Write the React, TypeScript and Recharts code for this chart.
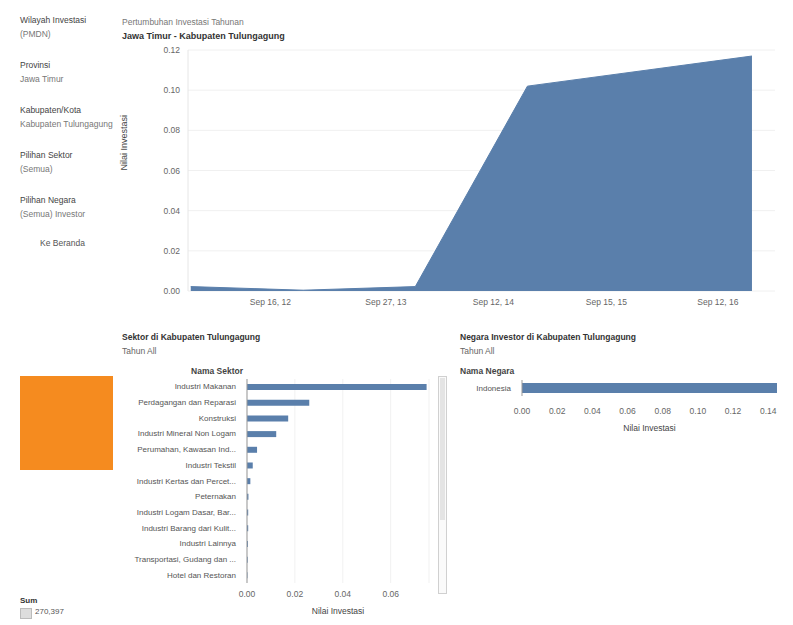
import {
  AreaChart,
  Area,
  BarChart,
  Bar,
  XAxis,
  YAxis,
  CartesianGrid,
} from 'recharts'

// growth over time (Nilai Investasi)
const growthDates = ['2012-01-01', '2013-01-01', '2014-01-01', '2015-01-01', '2017-01-01']
const growthValues = [0.0022, 0.0004, 0.0022, 0.102, 0.117]
const growthTickDates = ['2012-09-16', '2013-09-27', '2014-09-12', '2015-09-15', '2016-09-12']
const growthTickLabels = ['Sep 16, 12', 'Sep 27, 13', 'Sep 12, 14', 'Sep 15, 15', 'Sep 12, 16']
const growthYTicks = [0, 0.02, 0.04, 0.06, 0.08, 0.1, 0.12]

// sectors
const sectorNames = [
  'Industri Makanan',
  'Perdagangan dan Reparasi',
  'Konstruksi',
  'Industri Mineral Non Logam',
  'Perumahan, Kawasan Ind...',
  'Industri Tekstil',
  'Industri Kertas dan Percet...',
  'Peternakan',
  'Industri Logam Dasar, Bar...',
  'Industri Barang dari Kulit...',
  'Industri Lainnya',
  'Transportasi, Gudang dan ...',
  'Hotel dan Restoran',
]
const sectorValues = [0.075, 0.026, 0.0172, 0.0122, 0.0042, 0.0024, 0.0014, 0.0006, 0.0005, 0.0005, 0.0004, 0.0003, 0.0002]
const sectorTicks = [0, 0.02, 0.04, 0.06]

// countries
const countryNames = ['Indonesia']
const countryValues = [0.145]
const countryTicks = [0, 0.02, 0.04, 0.06, 0.08, 0.1, 0.12, 0.14]

const filterLabels = [
  ['Wilayah Investasi', '(PMDN)'],
  ['Provinsi', 'Jawa Timur'],
  ['Kabupaten/Kota', 'Kabupaten Tulungagung'],
  ['Pilihan Sektor', '(Semua)'],
  ['Pilihan Negara', '(Semua) Investor'],
]

const BLUE = '#5a7fab'
const FONT = '"Liberation Sans", Arial, sans-serif'
const tickStyle = { fill: '#666', fontSize: 8.5, fontFamily: FONT }

const growthData = growthDates.map((d, i) => ({ t: Date.parse(d), v: growthValues[i] }))
const growthTicks = growthTickDates.map((d) => Date.parse(d))
const sectorData = sectorNames.map((n, i) => ({ name: n, v: sectorValues[i] }))
const countryData = countryNames.map((n, i) => ({ name: n, v: countryValues[i] }))

const fmt2 = (v: number) => v.toFixed(2)

// category label without wrapping
function CatTick(props: any) {
  const { x, y, payload } = props
  return (
    <text x={x - 3} y={y} textAnchor="end" dominantBaseline="central" fill="#555" fontSize={8} fontFamily={FONT}>
      {payload.value}
    </text>
  )
}

export default function App() {
  return (
    <div style={{ position: 'absolute', left: 0, top: 0, width: 793, height: 625, background: '#fff', fontFamily: FONT, overflow: 'hidden' }}>
      {/* filter panel */}
      {filterLabels.map((pair, i) => (
        <div key={i} style={{ position: 'absolute', left: 20, top: 13 + i * 45, fontSize: 8.5, lineHeight: '14px', color: '#555' }}>
          <div style={{ color: '#444' }}>{pair[0]}</div>
          <div style={{ color: '#777' }}>{pair[1]}</div>
        </div>
      ))}
      <div style={{ position: 'absolute', left: 40, top: 238, fontSize: 8.5, color: '#555' }}>Ke Beranda</div>

      {/* time chart titles */}
      <div style={{ position: 'absolute', left: 122, top: 17, fontSize: 8.5, color: '#777' }}>Pertumbuhan Investasi Tahunan</div>
      <div style={{ position: 'absolute', left: 122, top: 31, fontSize: 9, color: '#333', fontWeight: 'bold' }}>Jawa Timur - Kabupaten Tulungagung</div>

      <div style={{ position: 'absolute', left: 110, top: 45 }}>
        <AreaChart width={680} height={265} data={growthData} margin={{ top: 5, right: 15, bottom: 0, left: 18 }}>
          <CartesianGrid vertical={false} stroke="#f0f0f0" />
          <XAxis
            dataKey="t"
            type="number"
            scale="time"
            domain={[Date.parse('2011-12-23'), Date.parse('2017-03-17')]}
            ticks={growthTicks}
            tickFormatter={(t: number) => growthTickLabels[growthTicks.indexOf(t)] ?? ''}
            tick={tickStyle}
            axisLine={false}
            tickLine={false}
            height={19}
          />
          <YAxis
            type="number"
            domain={[0, 0.12]}
            ticks={growthYTicks}
            tickFormatter={fmt2}
            tick={tickStyle}
            axisLine={{ stroke: '#e6e6e6' }}
            tickLine={false}
            width={60}
            label={{ value: 'Nilai Investasi', angle: -90, position: 'insideLeft', offset: -4, fill: '#444', fontSize: 9, fontFamily: FONT }}
          />
          <Area dataKey="v" type="linear" stroke={BLUE} strokeWidth={1} fill={BLUE} fillOpacity={1} isAnimationActive={false} />
        </AreaChart>
      </div>

      {/* sector chart */}
      <div style={{ position: 'absolute', left: 122, top: 330, fontSize: 8.5, lineHeight: '14px', color: '#333' }}>
        <div style={{ fontWeight: 'bold' }}>Sektor di Kabupaten Tulungagung</div>
        <div style={{ color: '#666' }}>Tahun All</div>
      </div>
      <div style={{ position: 'absolute', left: 110, width: 133, top: 366, fontSize: 8.5, color: '#444', textAlign: 'right', fontWeight: 'bold' }}>Nama Sektor</div>
      <div style={{ position: 'absolute', left: 110, top: 379 }}>
        <BarChart width={324} height={222} data={sectorData} layout="vertical" barCategoryGap="32%" margin={{ top: 0, right: 5, bottom: 0, left: 0 }}>
          <CartesianGrid horizontal={false} stroke="#f1f1f1" />
          <XAxis
            type="number"
            domain={[0, 0.076]}
            ticks={sectorTicks}
            tickFormatter={fmt2}
            tick={tickStyle}
            axisLine={false}
            tickLine={false}
            height={18}
          />
          <YAxis
            type="category"
            dataKey="name"
            tick={<CatTick />}
            axisLine={{ stroke: '#999' }}
            tickLine={false}
            width={137}
            interval={0}
          />
          <Bar dataKey="v" fill={BLUE} isAnimationActive={false} />
        </BarChart>
      </div>
      <div style={{ position: 'absolute', left: 247, width: 182, top: 606, fontSize: 8.5, color: '#444', textAlign: 'center' }}>Nilai Investasi</div>
      {/* scrollbar */}
      <div style={{ position: 'absolute', left: 438, top: 376, width: 9, height: 218, border: '1px solid #d0d0d0', background: '#fafafa', boxSizing: 'border-box' }}>
        <div style={{ position: 'absolute', left: 1, top: 1, width: 5, height: 142, background: '#e4e4e4' }} />
      </div>

      {/* country chart */}
      <div style={{ position: 'absolute', left: 460, top: 330, fontSize: 8.5, lineHeight: '14px', color: '#333' }}>
        <div style={{ fontWeight: 'bold' }}>Negara Investor di Kabupaten Tulungagung</div>
        <div style={{ color: '#666' }}>Tahun All</div>
      </div>
      <div style={{ position: 'absolute', left: 460, top: 366, fontSize: 8.5, color: '#444', fontWeight: 'bold' }}>Nama Negara</div>
      <div style={{ position: 'absolute', left: 440, top: 380 }}>
        <BarChart width={345} height={40} data={countryData} layout="vertical" margin={{ top: 0, right: 8, bottom: 0, left: 0 }}>
          <XAxis
            type="number"
            domain={[0, 0.145]}
            ticks={countryTicks}
            tickFormatter={fmt2}
            tick={{ ...tickStyle, dy: 4 }}
            axisLine={false}
            tickLine={false}
            height={24}
          />
          <YAxis
            type="category"
            dataKey="name"
            tick={<CatTick />}
            axisLine={{ stroke: '#999' }}
            tickLine={false}
            width={82}
            interval={0}
          />
          <Bar dataKey="v" fill={BLUE} barSize={10} isAnimationActive={false} />
        </BarChart>
      </div>
      <div style={{ position: 'absolute', left: 522, width: 255, top: 423, fontSize: 8.5, color: '#444', textAlign: 'center' }}>Nilai Investasi</div>

      {/* map placeholder */}
      <div style={{ position: 'absolute', left: 20, top: 376, width: 93, height: 94, background: '#f58b1f' }} />

      {/* size legend */}
      <div style={{ position: 'absolute', left: 20, top: 596, fontSize: 8, color: '#333', fontWeight: 'bold' }}>Sum</div>
      <div style={{ position: 'absolute', left: 20, top: 608, width: 10, height: 9, background: '#ddd', border: '1px solid #bbb' }} />
      <div style={{ position: 'absolute', left: 35, top: 607, fontSize: 8, color: '#555' }}>270,397</div>
    </div>
  )
}
